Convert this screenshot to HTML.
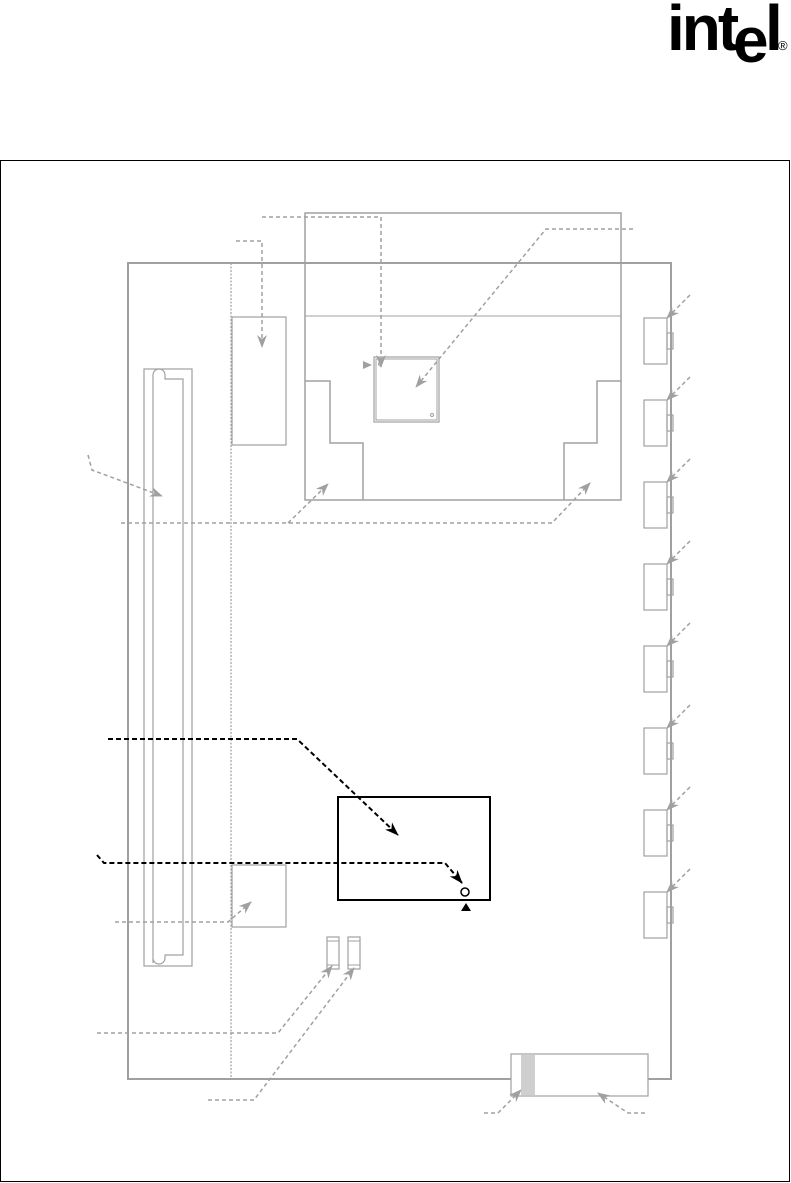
<!DOCTYPE html>
<html><head><style>body{margin:0;background:#fff}svg{display:block}</style></head><body>
<svg width="791" height="1183" viewBox="0 0 791 1183" xmlns="http://www.w3.org/2000/svg">
<g font-family="Liberation Sans, sans-serif" font-weight="bold" fill="#000">
<text x="667" y="50" font-size="64" letter-spacing="-3">int</text>
<text x="733" y="62" font-size="64">e</text>
<text x="765" y="50" font-size="64">l</text>
<text x="778" y="50" font-size="13" font-weight="normal">®</text>
</g>
<rect x="0.5" y="160.5" width="789" height="1021" fill="none" stroke="#000" stroke-width="1"/>
<defs>
<marker id="ga" markerWidth="13" markerHeight="10" refX="12" refY="5" orient="auto" markerUnits="userSpaceOnUse"><path d="M0,0 L13,5 L0,10 L4,5z" fill="#a0a0a0"/></marker>
<marker id="ba" markerWidth="14" markerHeight="10" refX="13" refY="5" orient="auto" markerUnits="userSpaceOnUse"><path d="M0,0 L14,5 L0,10 L4,5z" fill="#000"/></marker>
</defs>
<g fill="none" stroke="#a0a0a0">
<rect x="128" y="263" width="543" height="816" stroke-width="2"/>
<line x1="231" y1="263" x2="231" y2="1079" stroke-dasharray="2,1.5" stroke-width="1.2"/>
<rect x="144" y="369" width="48" height="597" stroke-width="1.2"/>
<path d="M153,963 V375 a6,6 0 0 1 12,0 V379 H183 V955 H165 V958 a6,6 0 0 1 -12,0" stroke-width="1.2"/>
<rect x="232" y="317" width="54" height="128" stroke-width="1.2"/>
<rect x="232" y="865" width="54" height="62" stroke-width="1.2"/>
<path d="M305,500 V213 H621 V500 Z" stroke-width="1.5"/>
<line x1="300" y1="263" x2="640" y2="263" stroke-width="1.5"/>
<line x1="305" y1="316" x2="621" y2="316" stroke-width="1"/>
<path d="M305,381 H330 V443 H363 V500 M621,381 H597 V443 H564 V500" stroke-width="1.5"/>
<rect x="374" y="357" width="65" height="65" stroke-width="1.2"/>
<rect x="376" y="359" width="61" height="61" stroke-width="1"/>
<circle cx="380" cy="364" r="1.5"/><circle cx="432" cy="415" r="1.5"/>
<rect x="327" y="937" width="12" height="32" stroke-width="1.2"/><line x1="327" y1="941" x2="339" y2="941"/><line x1="327" y1="965" x2="339" y2="965"/>
<rect x="348" y="937" width="12" height="32" stroke-width="1.2"/><line x1="348" y1="941" x2="360" y2="941"/><line x1="348" y1="965" x2="360" y2="965"/>
<rect x="511" y="1054" width="137" height="42" stroke-width="1.2" fill="#fff"/>
<rect x="521" y="1055" width="14" height="40" fill="#cfcfcf" stroke="none"/>
<line x1="648" y1="1079" x2="671" y2="1079" stroke-width="2"/>
</g>
<path d="M363,361 L372,365 L363,369z" fill="#a0a0a0"/>
<g fill="none" stroke="#a0a0a0" stroke-width="1.2">
<rect x="644" y="318" width="23" height="46"/><rect x="667" y="333" width="6" height="16"/>
<rect x="644" y="400" width="23" height="46"/><rect x="667" y="415" width="6" height="16"/>
<rect x="644" y="482" width="23" height="46"/><rect x="667" y="497" width="6" height="16"/>
<rect x="644" y="564" width="23" height="46"/><rect x="667" y="579" width="6" height="16"/>
<rect x="644" y="646" width="23" height="46"/><rect x="667" y="661" width="6" height="16"/>
<rect x="644" y="728" width="23" height="46"/><rect x="667" y="743" width="6" height="16"/>
<rect x="644" y="810" width="23" height="46"/><rect x="667" y="825" width="6" height="16"/>
<rect x="644" y="892" width="23" height="46"/><rect x="667" y="907" width="6" height="16"/>
</g>
<g fill="none" stroke="#a0a0a0" stroke-width="1.5" stroke-dasharray="4,3" marker-end="url(#ga)">
<path d="M262,217 H381 V367"/>
<path d="M633,229 H546 L416,387"/>
<path d="M236,241 H262 V347"/>
<path d="M88,455 L92,470 L162,496"/>
<path d="M121,523 H552 L590,483"/>
<path d="M288,523 L328,484"/>
<path d="M115,922 H228 L251,902"/>
<path d="M97,1033 H278 L332,966"/>
<path d="M208,1100 H254 L354,968"/>
<path d="M484,1113 H498 L521,1090"/>
<path d="M645,1113 H628 L598,1093"/>
<path d="M690,295 L667,318"/><path d="M690,377 L667,400"/><path d="M690,459 L667,482"/><path d="M690,541 L667,564"/>
<path d="M690,623 L667,646"/><path d="M690,705 L667,728"/><path d="M690,787 L667,810"/><path d="M690,869 L667,892"/>
</g>
<rect x="338" y="797" width="152" height="103" fill="none" stroke="#000" stroke-width="2"/>
<circle cx="465" cy="892" r="4" fill="#fff" stroke="#000" stroke-width="1.5"/>
<path d="M461,911 L466,903 L471,911z" fill="#000"/>
<g fill="none" stroke="#000" stroke-width="2" stroke-dasharray="5,3" marker-end="url(#ba)">
<path d="M108,739 H297 L398,835"/>
<path d="M97,855 L104,863 H445 L462,883"/>
</g>
</svg>
</body></html>
